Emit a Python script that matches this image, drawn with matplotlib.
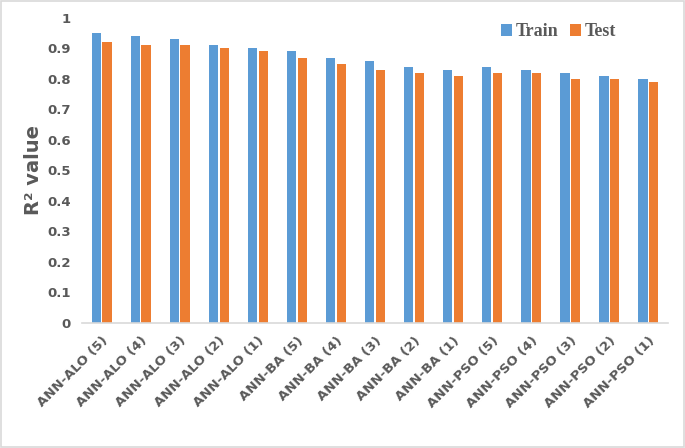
import numpy as np
import matplotlib.pyplot as plt
from matplotlib.patches import Rectangle

models = ['ANN-ALO (5)', 'ANN-ALO (4)', 'ANN-ALO (3)', 'ANN-ALO (2)', 'ANN-ALO (1)',
          'ANN-BA (5)', 'ANN-BA (4)', 'ANN-BA (3)', 'ANN-BA (2)', 'ANN-BA (1)',
          'ANN-PSO (5)', 'ANN-PSO (4)', 'ANN-PSO (3)', 'ANN-PSO (2)', 'ANN-PSO (1)']
train = [0.95, 0.94, 0.93, 0.91, 0.90, 0.89, 0.87, 0.86, 0.84, 0.83, 0.84, 0.83, 0.82, 0.81, 0.80]
test = [0.92, 0.91, 0.91, 0.90, 0.89, 0.87, 0.85, 0.83, 0.82, 0.81, 0.82, 0.82, 0.80, 0.80, 0.79]
yticks = [0, 0.1, 0.2, 0.3, 0.4, 0.5, 0.6, 0.7, 0.8, 0.9, 1]
ytick_labels = ['0', '0.1', '0.2', '0.3', '0.4', '0.5', '0.6', '0.7', '0.8', '0.9', '1']

grey = '#595959'
blue = '#5b9bd5'
orange = '#ed7d31'

fig = plt.figure(figsize=(6.85, 4.48), dpi=100)
ax = fig.add_axes([0.12, 0.279, 0.855, 0.681])

x = np.arange(len(models))
w = 0.235
ax.bar(x - 0.135, train, w, color=blue, label='Train')
ax.bar(x + 0.135, test, w, color=orange, label='Test')

ax.set_xlim(-0.5, len(models) - 0.5)
ax.set_ylim(0, 1)
ax.set_yticks(yticks)
ax.set_yticklabels(ytick_labels, fontsize=9.5, fontweight='bold', color=grey)
ax.set_xticks(x)
ax.set_xticklabels(models, rotation=45, ha='right', rotation_mode='anchor',
                   fontsize=9.5, fontweight='bold', color=grey)
ax.tick_params(axis='both', length=0)
ax.tick_params(axis='y', pad=8)
ax.tick_params(axis='x', pad=8)

for s in ['top', 'right', 'left']:
    ax.spines[s].set_visible(False)
ax.spines['bottom'].set_color('#d9d9d9')
ax.spines['bottom'].set_linewidth(1.2)

ax.set_ylabel('R² value', fontsize=14, fontweight='bold', color=grey, labelpad=3)

leg = ax.legend(loc='upper right', bbox_to_anchor=(0.94, 1.035), ncol=2, frameon=False,
                handlelength=0.6, handleheight=0.6, handletextpad=0.25, columnspacing=0.6,
                prop={'family': 'Liberation Serif', 'weight': 'bold', 'size': 13})
for t in leg.get_texts():
    t.set_color(grey)

fig.patches.append(Rectangle((0.002, 0.002), 0.996, 0.996, transform=fig.transFigure,
                             fill=False, edgecolor='#d9d9d9', linewidth=1.2))

fig.savefig('out.png', dpi=100)
